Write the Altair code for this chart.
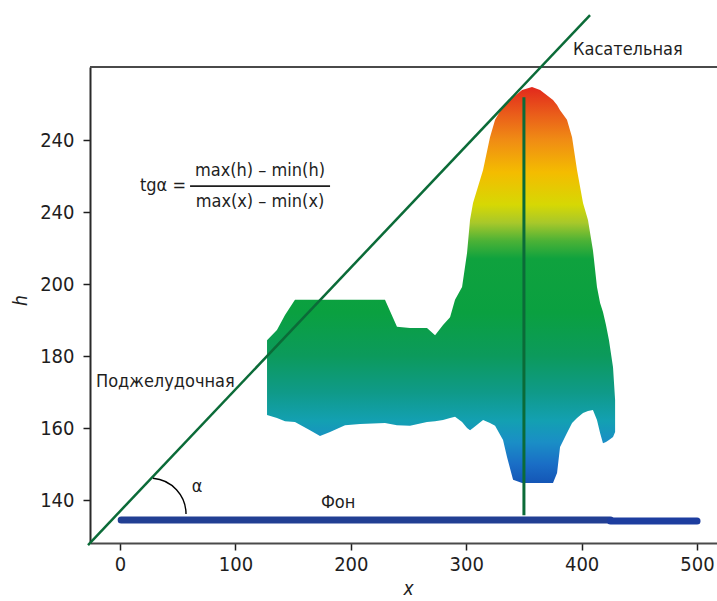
import altair as alt
import pandas as pd

# ---------------- data ----------------
# organ profile (columns along x): upper and lower h of the point cloud
shape_x = [127.4, 136.0, 143.0, 151.6, 164.6, 173.3, 182.0, 195.0, 208.0, 229.6,
           240.0, 251.3, 266.0, 273.0, 279.9, 286.0, 290.3, 296.4, 300.7, 303.3,
           305.9, 314.6, 320.6, 325.0, 331.9, 335.4, 340.6, 348.4, 357.0, 364.0,
           375.2, 378.7, 381.3, 387.3, 391.7, 396.0, 401.2, 405.5, 409.8, 413.3,
           416.0, 418.5, 421.1, 423.7, 427.2, 429.0]
shape_top = [184.4, 187.2, 191.4, 195.6, 195.6, 195.6, 195.6, 195.6, 195.6, 195.6,
             188.1, 187.8, 187.8, 185.8, 188.6, 190.8, 195.6, 199.2, 208.6, 217.8,
             222.5, 231.7, 240.8, 245.6, 249.4, 250.3, 251.9, 253.9, 254.7, 253.9,
             251.1, 249.7, 248.3, 245.6, 240.8, 231.7, 222.5, 217.8, 209.4, 199.2,
             194.7, 192.2, 188.6, 184.4, 176.9, 167.8]
shape_bottom = [163.6, 162.8, 161.9, 161.7, 159.4, 157.8, 158.9, 160.8, 161.1, 161.4,
                160.8, 160.6, 161.7, 161.9, 162.2, 162.8, 163.1, 161.7, 160.0, 159.4,
                160.0, 162.2, 161.4, 160.6, 156.7, 151.9, 145.6, 144.7, 144.7, 144.7,
                144.7, 147.5, 154.7, 158.6, 161.4, 162.8, 164.2, 164.7, 165.0, 162.2,
                158.6, 155.8, 156.1, 156.7, 157.5, 158.9]

# colour of the cloud as a function of h
grad_h = [144.7, 150, 156, 162, 170, 180, 192, 207, 212, 217, 222, 231, 240, 247, 254.7]
grad_colors = ["#1456b6", "#1a6ec6", "#1a8ec6", "#13a0b2", "#0f9a88", "#0c9a5c",
               "#0aa040", "#0fa23e", "#4cb236", "#a8c82a", "#d6d804", "#f4bc00",
               "#f08c14", "#ea5e1a", "#e2281c"]

# background ("Фон") band
bg_x1 = [1, 425]
bg_x2 = [425, 500]
bg_h = [134.44, 134.2]
bg_colors = ["#223f93", "#1d3d9f"]

# tangent line end points
tan_x = [-27.7, 407.3]
tan_h = [127.5, 274.7]

# vertical line through the apex
vert_x = [350]
vert_h1 = [251.9]
vert_h2 = [135.8]

# angle arc centre
arc_x = [26.0]
arc_h = [136.1]

# axes
x_ticks = [0, 100, 200, 300, 400, 500]
y_ticks = [140, 160, 180, 200, 220, 240]
y_tick_labels = ["140", "160", "180", "200", "240", "240"]
X_DOMAIN = [-26, 517.3]
Y_DOMAIN = [128.06, 260.28]

# annotations
left_text = ["Касательная", "Поджелудочная", "tgα ="]
left_x = [392.5, -20.8, 17.3]
left_h = [265.0, 172.8, 227.2]
center_text = ["Фон", "α"]
center_x = [189, 66.7]
center_h = [139.2, 143.6]
frac_text = ["max(h) – min(h)", "max(x) – min(x)"]
frac_x = [121.3, 121.3]
frac_h = [231.5, 222.8]
frac_bar_x = [60.7]
frac_bar_x2 = [182.0]
frac_bar_h = [227.2]

FONT = "Liberation Sans Narrow, Arial Narrow, DejaVu Sans Condensed, Liberation Sans, sans-serif"
GREEN = "#0b6b38"
INK = "#1e1e1e"

# ---------------- chart ----------------
xs = alt.Scale(domain=X_DOMAIN, nice=False, zero=False)
ys = alt.Scale(domain=Y_DOMAIN, nice=False, zero=False)

hmin, hmax = min(shape_bottom), max(shape_top)
stops = [alt.GradientStop(color=c, offset=max(0, min(1, (h - hmin) / (hmax - hmin))))
         for h, c in zip(grad_h, grad_colors)]
gradient = alt.LinearGradient(gradient="linear", stops=stops, x1=0, x2=0, y1=1, y2=0)

label_expr = "''"
for v, l in reversed(list(zip(y_ticks, y_tick_labels))):
    label_expr = f"datum.value == {v} ? '{l}' : ({label_expr})"

shape_df = pd.DataFrame({"x": shape_x, "top": shape_top, "bottom": shape_bottom})
shape = alt.Chart(shape_df).mark_area(fill=gradient, interpolate="linear").encode(
    x=alt.X("x:Q", scale=xs, axis=alt.Axis(
        values=x_ticks, title="x", titleFontStyle="italic", titleFontWeight="normal",
        titleFontSize=19, titleFont=FONT, titleColor=INK,
        titleX=318, titleY=45, titleBaseline="middle", titleAlign="center",
        labelFont=FONT, labelFontSize=20, labelColor=INK, labelPadding=4,
        tickSize=7, tickColor=INK, tickWidth=1.5,
        domainColor="#4a4a4a", domainWidth=2, grid=False)),
    y=alt.Y("top:Q", scale=ys, axis=alt.Axis(
        values=y_ticks, labelExpr=label_expr, title="h", titleFontStyle="italic",
        titleFontWeight="normal", titleFontSize=19, titleFont=FONT, titleColor=INK,
        titleX=-70, titleY=233, titleBaseline="middle", titleAlign="center",
        labelFont=FONT, labelFontSize=20, labelColor=INK, labelPadding=9,
        tickSize=7, tickColor=INK, tickWidth=1.5,
        domainColor="#2a2a2a", domainWidth=2, grid=False)),
    y2="bottom:Q",
)

bg_df = pd.DataFrame({"x1": bg_x1, "x2": bg_x2, "h": bg_h, "c": bg_colors})
bg = alt.Chart(bg_df).mark_rule(strokeWidth=7, strokeCap="round").encode(
    x=alt.X("x1:Q", scale=xs), x2="x2:Q", y=alt.Y("h:Q", scale=ys),
    color=alt.Color("c:N", scale=None),
)

tan_df = pd.DataFrame({"x": tan_x, "h": tan_h})
tangent = alt.Chart(tan_df).mark_line(color=GREEN, strokeWidth=2.5, clip=False).encode(
    x=alt.X("x:Q", scale=xs), y=alt.Y("h:Q", scale=ys)
)

vert_df = pd.DataFrame({"x": vert_x, "h1": vert_h1, "h2": vert_h2})
vert = alt.Chart(vert_df).mark_rule(color=GREEN, strokeWidth=3).encode(
    x=alt.X("x:Q", scale=xs), y=alt.Y("h1:Q", scale=ys), y2="h2:Q"
)

arc_df = pd.DataFrame({"x": arc_x, "h": arc_h})
arc = alt.Chart(arc_df).mark_arc(
    radius=36, radius2=36, theta=0.083, theta2=1.5708,
    filled=False, stroke="black", strokeWidth=1.4, fill=None
).encode(x=alt.X("x:Q", scale=xs), y=alt.Y("h:Q", scale=ys))

lt_df = pd.DataFrame({"x": left_x, "h": left_h, "t": left_text})
ltext = alt.Chart(lt_df).mark_text(
    align="left", baseline="middle", font=FONT, fontSize=18, color=INK
).encode(x=alt.X("x:Q", scale=xs), y=alt.Y("h:Q", scale=ys), text="t:N")

ct_df = pd.DataFrame({"x": center_x, "h": center_h, "t": center_text})
ctext = alt.Chart(ct_df).mark_text(
    align="center", baseline="middle", font=FONT, fontSize=18, color=INK
).encode(x=alt.X("x:Q", scale=xs), y=alt.Y("h:Q", scale=ys), text="t:N")

ft_df = pd.DataFrame({"x": frac_x, "h": frac_h, "t": frac_text})
ftext = alt.Chart(ft_df).mark_text(
    align="center", baseline="middle", font=FONT, fontSize=18, color=INK
).encode(x=alt.X("x:Q", scale=xs), y=alt.Y("h:Q", scale=ys), text="t:N")

fb_df = pd.DataFrame({"x": frac_bar_x, "x2": frac_bar_x2, "h": frac_bar_h})
fbar = alt.Chart(fb_df).mark_rule(color=INK, strokeWidth=1.8).encode(
    x=alt.X("x:Q", scale=xs), x2="x2:Q", y=alt.Y("h:Q", scale=ys)
)

frame_df = pd.DataFrame({"x": [X_DOMAIN[0]], "x2": [X_DOMAIN[1]], "h": [Y_DOMAIN[1]]})
frame = alt.Chart(frame_df).mark_rule(color="#4a4a4a", strokeWidth=2).encode(
    x=alt.X("x:Q", scale=xs), x2="x2:Q", y=alt.Y("h:Q", scale=ys)
)

chart = alt.layer(
    shape, bg, frame, tangent, vert, arc, ltext, ctext, ftext, fbar
).properties(
    width=627, height=476,
    padding={"left": 90, "top": 67, "right": 0, "bottom": 58},
    autosize=alt.AutoSizeParams(type="none"),
).configure_view(stroke=None).configure(background="white")

chart.save("out.html", embed_options={"renderer": "svg", "actions": False})
